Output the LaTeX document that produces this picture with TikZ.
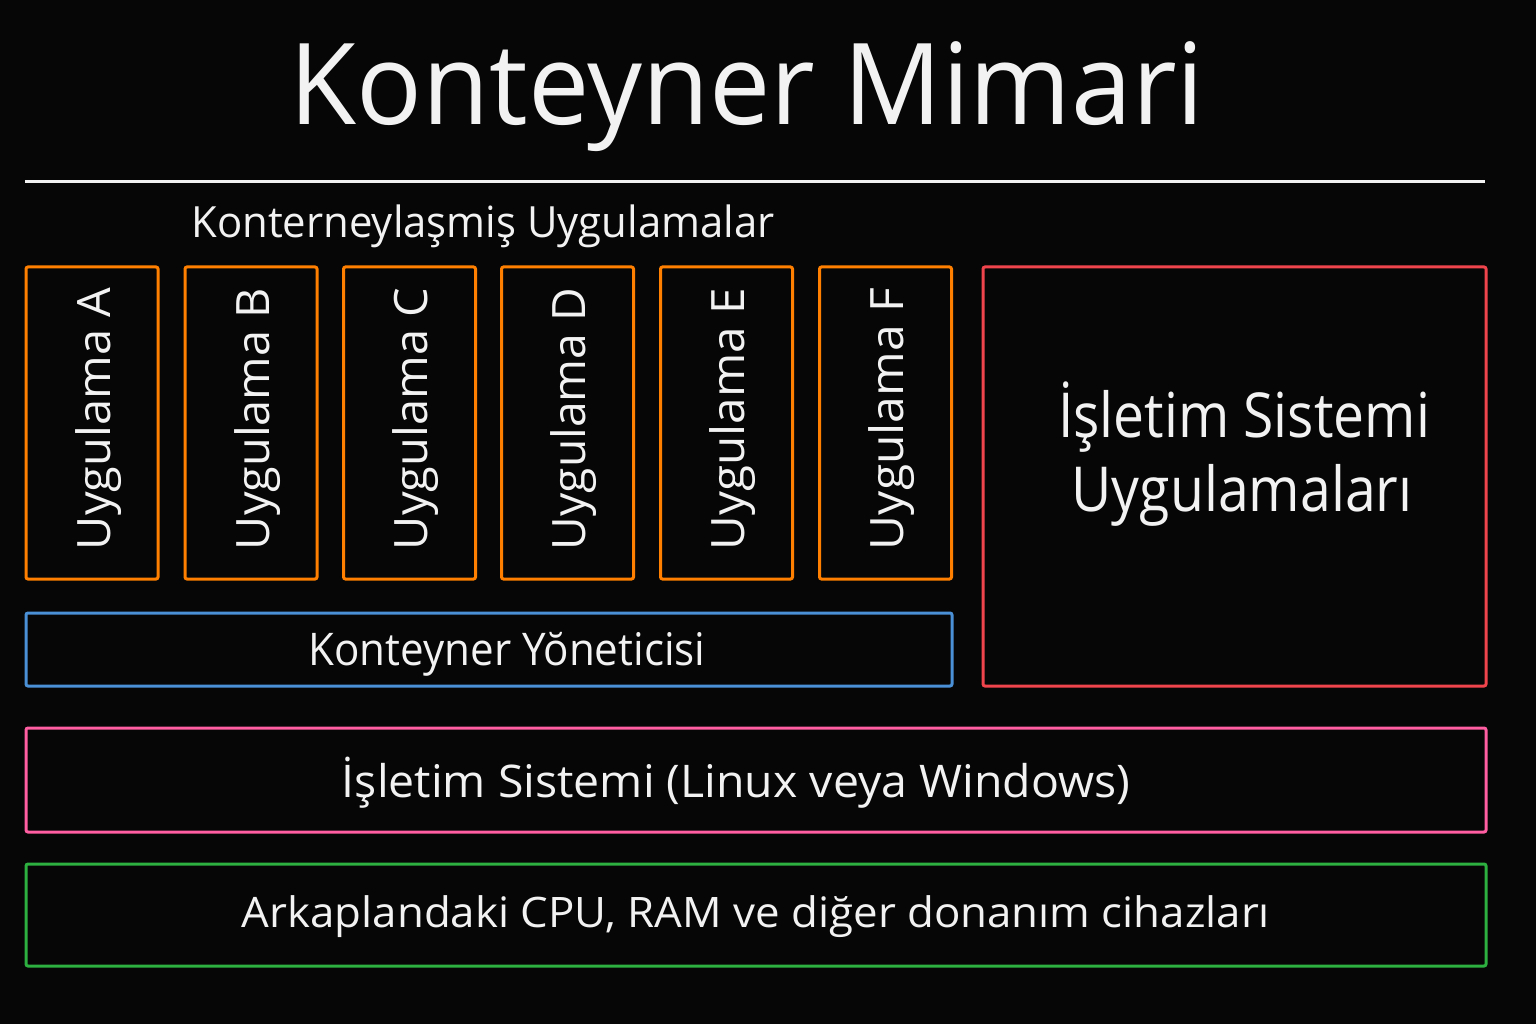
\documentclass[tikz,border=0pt]{standalone}
\usepackage{fontspec}
\setmainfont{Open Sans}
\usepackage{graphicx}
\definecolor{bg}{HTML}{060606}
\definecolor{txt}{HTML}{F2F2F2}
\definecolor{cOrange}{HTML}{FF8000}
\definecolor{cRed}{HTML}{F0444C}
\definecolor{cBlue}{HTML}{4A90D6}
\definecolor{cPink}{HTML}{FF5FA2}
\definecolor{cGreen}{HTML}{2DB040}
\newcommand{\fitw}[3]{\resizebox{#1pt}{\height}{\fontsize{#2pt}{#2pt}\selectfont #3}}
\tikzset{
  box/.style={draw=#1, line width=3pt, rounded corners=2pt, rectangle, inner sep=0pt, outer sep=0pt},
  lbl/.style={text=txt, inner sep=0pt, outer sep=0pt, anchor=base},
  vlbl/.style={lbl, rotate=90}
}
\begin{document}
\begin{tikzpicture}[x=1pt,y=-1pt]
\useasboundingbox[fill=bg] (0,0) rectangle (1536,1024);
% title
\node[lbl] (title) at (747,125) {\fitw{915}{113}{Konteyner Mimari}};
\coordinate (hl) at (25,182);
\coordinate (hr) at (1485,182);
\draw[txt, line width=3pt] (hl) -- (hr);
\node[lbl] (sub) at (483,237) {\fitw{583}{43}{Konterneylaşmiş Uygulamalar}};
% app boxes
\foreach \n/\cx/\l in {a/92/A, b/251/B, c/409.5/C, d/567.5/D, e/726.5/E, f/885.5/F}{
  \node[box=cOrange, minimum width=132pt, minimum height=312pt] (box\n) at (\cx,423) {};
  \node[vlbl] (t\n) at (\cx+18,419) {\fitw{262}{46}{Uygulama \l}};
}
% OS apps
\node[box=cRed, minimum width=503pt, minimum height=419pt] (osapp) at (1234.5,476.5) {};
\node[lbl] (osapp1) at (1244,437) {\fitw{372}{62}{İşletim Sistemi}};
\node[lbl] (osapp2) at (1242,511) {\fitw{341}{62}{Uygulamaları}};
% container manager
\node[box=cBlue, minimum width=926pt, minimum height=73pt] (mgr) at (489,649.5) {};
\node[lbl] (mgrt) at (507,665) {\fitw{397}{45}{Konteyner Yŏneticisi}};
% OS
\node[box=cPink, minimum width=1460pt, minimum height=104pt] (os) at (756,780) {};
\node[lbl] (ost) at (736,797) {\fitw{788}{45}{İşletim Sistemi (Linux veya Windows)}};
% hardware
\node[box=cGreen, minimum width=1460pt, minimum height=102pt] (hw) at (756,915) {};
\node[lbl] (hwt) at (756,927) {\fitw{1028}{42}{Arkaplandaki CPU, RAM ve diğer donanım cihazları}};
\end{tikzpicture}
\end{document}
